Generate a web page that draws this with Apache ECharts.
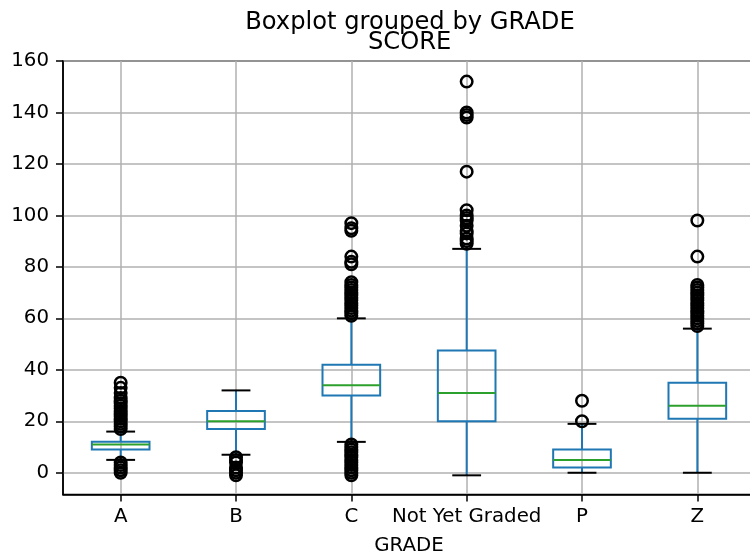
<!DOCTYPE html>
<html><head><meta charset="utf-8">
<script src="https://cdn.jsdelivr.net/npm/echarts@6/dist/echarts.min.js"></script>
<style>html,body{margin:0;padding:0;background:#fff}#c{width:750px;height:555px}</style>
</head><body><div id="c"></div>
<script>
const categories = ['A', 'B', 'C', 'Not Yet Graded', 'P', 'Z'];
const whiskerLow  = [5, 7, 12, -1, 0, 0];
const q1          = [9, 17, 30, 20, 2, 21];
const median      = [11, 20, 34, 31, 5, 26];
const q3          = [12, 24, 42, 47.5, 9, 35];
const whiskerHigh = [16, 32, 60, 87, 19, 56];

const outliersA   = [0, 1, 2, 3, 4, 17, 18, 19, 20, 21, 22, 23, 24, 25, 26, 27, 28, 29, 31, 33, 35];
const outliersB   = [-1, 0, 1, 2, 4, 5, 6];
const outliersC   = [-1, 0, 1, 2, 3, 4, 5, 6, 7, 8, 9, 10, 11, 61, 62, 63, 64, 65, 66, 67, 68, 69, 70, 71, 72, 73, 74, 81, 82, 84, 94, 95, 97];
const outliersNYG = [89, 90, 91, 93, 94, 96, 98, 99, 100, 102, 117, 138, 139, 140, 152];
const outliersP   = [20, 28];
const outliersZ   = [57, 58, 59, 60, 61, 62, 63, 64, 65, 66, 67, 68, 69, 70, 71, 72, 73, 84, 98];
const outliers = [outliersA, outliersB, outliersC, outliersNYG, outliersP, outliersZ];

const yTicks = [0, 20, 40, 60, 80, 100, 120, 140, 160];
const xPositions = categories.map((c, i) => i + 1);

const FONT = 'DejaVu Sans';
const BLUE = '#1f77b4', GREEN = '#2ca02c', BLACK = '#000000';

const boxData = categories.map((c, i) => [i + 1, whiskerLow[i], q1[i], median[i], q3[i], whiskerHigh[i]]);
const flierData = [];
outliers.forEach((arr, i) => arr.forEach(v => flierData.push([i + 1, v])));

function renderBox(params, api) {
  const x = api.value(0);
  const lo = api.coord([x, api.value(1)]);
  const b1 = api.coord([x, api.value(2)]);
  const md = api.coord([x, api.value(3)]);
  const b3 = api.coord([x, api.value(4)]);
  const hi = api.coord([x, api.value(5)]);
  const bw = api.size([0.5, 0])[0];
  const cw = api.size([0.25, 0])[0];
  const cx = lo[0];
  const lw = 2;
  return {
    type: 'group',
    children: [
      {type: 'line', shape: {x1: cx, y1: b1[1], x2: cx, y2: lo[1]}, style: {stroke: BLUE, lineWidth: lw}},
      {type: 'line', shape: {x1: cx, y1: b3[1], x2: cx, y2: hi[1]}, style: {stroke: BLUE, lineWidth: lw}},
      {type: 'line', shape: {x1: cx - cw / 2, y1: lo[1], x2: cx + cw / 2, y2: lo[1]}, style: {stroke: BLACK, lineWidth: lw}},
      {type: 'line', shape: {x1: cx - cw / 2, y1: hi[1], x2: cx + cw / 2, y2: hi[1]}, style: {stroke: BLACK, lineWidth: lw}},
      {type: 'rect', shape: {x: cx - bw / 2, y: b3[1], width: bw, height: b1[1] - b3[1]}, style: {fill: 'none', stroke: BLUE, lineWidth: lw}},
      {type: 'line', shape: {x1: cx - bw / 2, y1: md[1], x2: cx + bw / 2, y2: md[1]}, style: {stroke: GREEN, lineWidth: lw}}
    ]
  };
}

const chart = echarts.init(document.getElementById('c'), null, {renderer: 'canvas'});
chart.setOption({
  animation: false,
  backgroundColor: '#ffffff',
  title: [
    {text: 'Boxplot grouped by GRADE', left: 410, top: 11, padding: 0, textAlign: 'center', textVerticalAlign: 'top',
     textStyle: {fontFamily: FONT, fontSize: 24.2, fontWeight: 'normal', color: BLACK}},
    {text: 'SCORE', left: 409.6, top: 31, padding: 0, textAlign: 'center', textVerticalAlign: 'top',
     textStyle: {fontFamily: FONT, fontSize: 24.2, fontWeight: 'normal', color: BLACK}}
  ],
  grid: {left: 63, top: 61, width: 692, height: 433.5, show: true, borderColor: BLACK, borderWidth: 1.5,
         backgroundColor: 'transparent', containLabel: false, outerBoundsMode: 'none'},
  xAxis: {
    type: 'value', min: 0.5, max: 6.5,
    name: 'GRADE', nameLocation: 'middle', nameGap: 41,
    nameTextStyle: {fontFamily: FONT, fontSize: 19.8, color: BLACK},
    axisLine: {show: true, onZero: false, lineStyle: {color: BLACK, width: 1.5}},
    axisTick: {show: true, customValues: xPositions, length: 7, lineStyle: {color: BLACK, width: 1.5}},
    axisLabel: {customValues: xPositions, formatter: v => categories[Math.round(v) - 1], fontFamily: FONT, fontSize: 19.8, color: BLACK, margin: 12},
    splitLine: {show: true, lineStyle: {color: '#b0b0b0', width: 1.5}}
  },
  yAxis: {
    type: 'value', min: -8.45, max: 160,
    axisLine: {show: true, onZero: false, lineStyle: {color: BLACK, width: 1.5}},
    axisTick: {show: true, customValues: yTicks, length: 7, lineStyle: {color: BLACK, width: 1.5}},
    axisLabel: {customValues: yTicks, fontFamily: FONT, fontSize: 19.8, color: BLACK, margin: 14},
    splitLine: {show: true, lineStyle: {color: '#b0b0b0', width: 1.5}}
  },
  series: [
    {type: 'custom', data: boxData, encode: {x: 0, y: [1, 2, 3, 4, 5]}, renderItem: renderBox, z: 3},
    {type: 'scatter', data: flierData, symbol: 'circle', symbolSize: 11.5,
     itemStyle: {color: 'rgba(0,0,0,0)', borderColor: BLACK, borderWidth: 2.5, opacity: 1}, z: 4}
  ]
});
</script></body></html>
